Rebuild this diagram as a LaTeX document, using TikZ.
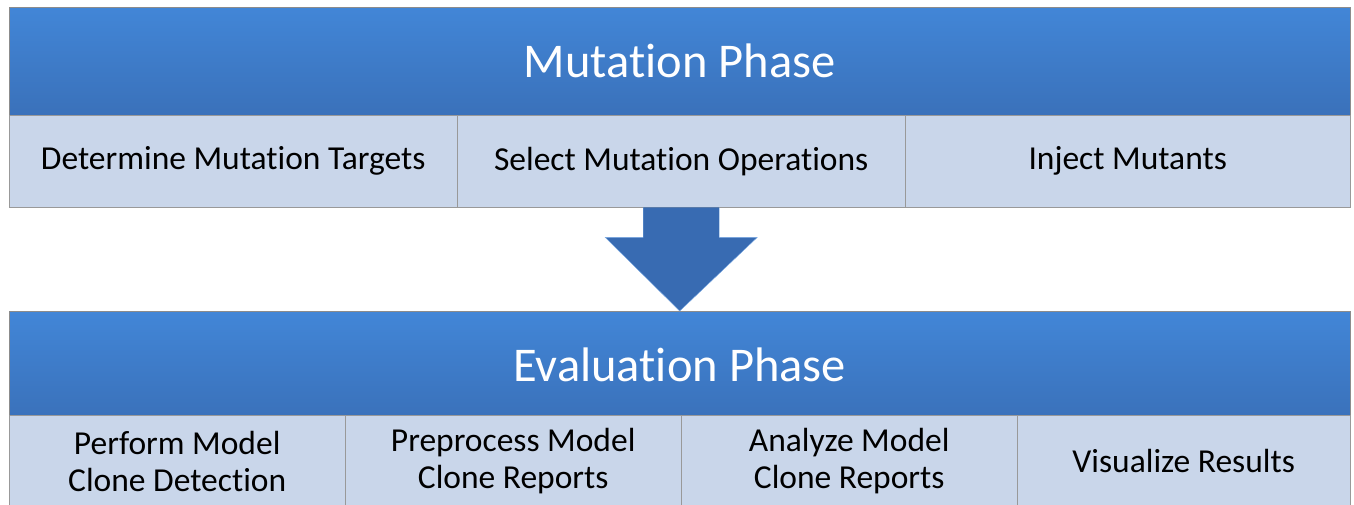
\documentclass[tikz,border=0pt]{standalone}
\usepackage{fontspec}
\setmainfont{Carlito}[Ligatures=NoCommon]
\definecolor{headtop}{HTML}{4286D7}
\definecolor{headbot}{HTML}{3A71BA}
\definecolor{taskfill}{HTML}{C9D6EA}
\definecolor{arrowfill}{HTML}{386BB2}
\begin{document}
\begin{tikzpicture}[x=1pt,y=-1pt,
    phase/.style={draw=black!45,top color=headtop,bottom color=headbot,text=white,
      font=\fontsize{48.5}{52}\selectfont,minimum height=108pt,minimum width=1341pt,
      inner sep=0pt,anchor=north west},
    task/.style={draw=black!40,fill=taskfill,font=\fontsize{33.5}{37}\selectfont,
      align=center,minimum height=92pt,inner sep=0pt,anchor=north west}]
  \useasboundingbox (0,0) rectangle (1354,505);
  % mutation phase
  \node[phase] (mut) at (9,7) {Mutation Phase};
  \node[task,minimum width=448pt] (targets) at (9,115) {Determine Mutation Targets};
  \node[task,minimum width=448pt] (ops) at (457,115) {Select Mutation Operations};
  \node[task,minimum width=445pt] (inject) at (905,115) {Inject Mutants};
  % evaluation phase
  \node[phase] (eval) at (9,311) {Evaluation Phase};
  \node[task,minimum width=336pt] (detect) at (9,415) {Perform Model\\Clone Detection};
  \node[task,minimum width=336pt] (prep) at (345,415) {Preprocess Model\\Clone Reports};
  \node[task,minimum width=336pt] (analyze) at (681,415) {Analyze Model\\Clone Reports};
  \node[task,minimum width=333pt] (vis) at (1017,415) {Visualize Results};
  % block arrow
  \draw[draw=headtop!70!white,fill=arrowfill,line join=miter]
    ([xshift=-38pt]ops.south) -- ([xshift=-38pt,yshift=-30pt]ops.south)
    -- ([xshift=-76pt,yshift=-30pt]ops.south) -- (eval.north)
    -- ([xshift=76pt,yshift=-30pt]ops.south) -- ([xshift=38pt,yshift=-30pt]ops.south)
    -- ([xshift=38pt]ops.south);
\end{tikzpicture}
\end{document}
